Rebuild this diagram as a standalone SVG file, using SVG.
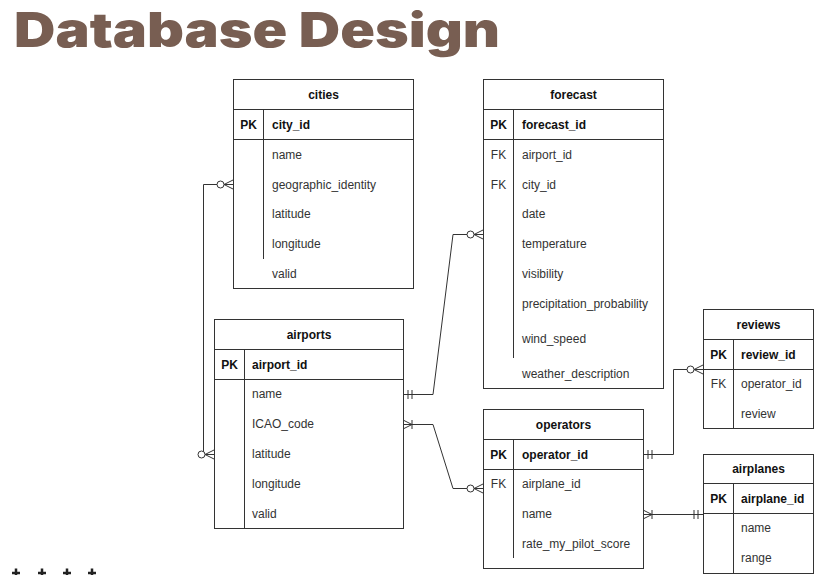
<svg xmlns="http://www.w3.org/2000/svg" width="823" height="575" viewBox="0 0 823 575">
<style>
.box{fill:#fff;stroke:#333;stroke-width:1}
.ln{stroke:#333;stroke-width:1;fill:none}
.t{font-family:"Liberation Sans",Arial,sans-serif;font-size:12px;fill:#333}
.b{font-weight:bold;fill:#111}
.c{text-anchor:middle}
.title{font-family:Inter,"DejaVu Sans",sans-serif;font-weight:900;font-size:48px;fill:#785e52}
.conn{stroke:#333;stroke-width:1;fill:none}
.plus{stroke:#222;stroke-width:2.5}
</style>
<defs>
<marker id="zm" viewBox="-20 -8 22 16" refX="0" refY="0" markerWidth="22" markerHeight="16" markerUnits="userSpaceOnUse" orient="auto-start-reverse" overflow="visible">
<path d="M-9,0 L0,-4.5 M-9,0 L0,0 M-9,0 L0,4.5" stroke="#333" fill="none"/>
<circle cx="-12.5" cy="0" r="3.5" fill="#fff" stroke="#333"/>
</marker>
<marker id="m1" viewBox="-20 -8 22 16" refX="0" refY="0" markerWidth="22" markerHeight="16" markerUnits="userSpaceOnUse" orient="auto-start-reverse" overflow="visible">
<path d="M-5,-4.5 V4.5 M-9,-4.5 V4.5" stroke="#333" fill="none"/>
</marker>
<marker id="om" viewBox="-20 -8 22 16" refX="0" refY="0" markerWidth="22" markerHeight="16" markerUnits="userSpaceOnUse" orient="auto-start-reverse" overflow="visible">
<path d="M-9,0 L0,-4.5 M-9,0 L0,0 M-9,0 L0,4.5 M-9,-4.5 V4.5" stroke="#333" fill="none"/>
</marker>
</defs>
<rect width="823" height="575" fill="#fff"/>
<text class="title" x="14" y="47" textLength="486" lengthAdjust="spacingAndGlyphs">Database Design</text>

<g id="connectors">
<path class="conn" d="M233,184.5 H203.5 V454.5 H214" marker-start="url(#zm)" marker-end="url(#zm)"/>
<path class="conn" d="M403,394.5 H433 L453,234.5 H483" marker-start="url(#m1)" marker-end="url(#zm)"/>
<path class="conn" d="M403,424.5 H433 L453,488.5 H483" marker-start="url(#om)" marker-end="url(#zm)"/>
<path class="conn" d="M643,454.5 H673.5 V369.5 H703" marker-start="url(#m1)" marker-end="url(#zm)"/>
<path class="conn" d="M643,514.5 H703" marker-start="url(#om)" marker-end="url(#m1)"/>
</g>

<g id="cities">
<rect class="box" x="233.5" y="79.5" width="180" height="209"/>
<path class="ln" d="M233.5,109.5 H413.5 M233.5,139.5 H413.5 M263.5,109.5 V259"/>
<text class="t b c" x="323.5" y="98.5">cities</text>
<text class="t b c" x="248.5" y="128.5">PK</text>
<text class="t b" x="272" y="128.5">city_id</text>
<text class="t" x="272" y="159">name</text>
<text class="t" x="272" y="189">geographic_identity</text>
<text class="t" x="272" y="218">latitude</text>
<text class="t" x="272" y="248">longitude</text>
<text class="t" x="272" y="278">valid</text>
</g>

<g id="forecast">
<rect class="box" x="483.5" y="79.5" width="180" height="309"/>
<path class="ln" d="M483.5,109.5 H663.5 M483.5,139.5 H663.5 M513.5,109.5 V358"/>
<text class="t b c" x="573.5" y="98.5">forecast</text>
<text class="t b c" x="498.5" y="128.5">PK</text>
<text class="t b" x="522" y="128.5">forecast_id</text>
<text class="t c" x="498.5" y="159">FK</text>
<text class="t" x="522" y="159">airport_id</text>
<text class="t c" x="498.5" y="189">FK</text>
<text class="t" x="522" y="189">city_id</text>
<text class="t" x="522" y="218">date</text>
<text class="t" x="522" y="248">temperature</text>
<text class="t" x="522" y="278">visibility</text>
<text class="t" x="522" y="308">precipitation_probability</text>
<text class="t" x="522" y="343">wind_speed</text>
<text class="t" x="522" y="378">weather_description</text>
</g>

<g id="airports">
<rect class="box" x="214.5" y="319.5" width="189" height="209"/>
<path class="ln" d="M214.5,349.5 H403.5 M214.5,379.5 H403.5 M244.5,349.5 V528.5"/>
<text class="t b c" x="309" y="338.5">airports</text>
<text class="t b c" x="229.5" y="368.5">PK</text>
<text class="t b" x="252" y="368.5">airport_id</text>
<text class="t" x="252" y="398">name</text>
<text class="t" x="252" y="428">ICAO_code</text>
<text class="t" x="252" y="458">latitude</text>
<text class="t" x="252" y="488">longitude</text>
<text class="t" x="252" y="518">valid</text>
</g>

<g id="operators">
<rect class="box" x="483.5" y="409.5" width="160" height="159"/>
<path class="ln" d="M483.5,439.5 H643.5 M483.5,469.5 H643.5 M513.5,439.5 V558"/>
<text class="t b c" x="563.5" y="428.5">operators</text>
<text class="t b c" x="498.5" y="458.5">PK</text>
<text class="t b" x="522" y="458.5">operator_id</text>
<text class="t c" x="498.5" y="488">FK</text>
<text class="t" x="522" y="488">airplane_id</text>
<text class="t" x="522" y="518">name</text>
<text class="t" x="522" y="548">rate_my_pilot_score</text>
</g>

<g id="reviews">
<rect class="box" x="703.5" y="309.5" width="110" height="119"/>
<path class="ln" d="M703.5,339.5 H813.5 M703.5,369.5 H813.5 M733.5,339.5 V428.5"/>
<text class="t b c" x="758.5" y="328.5">reviews</text>
<text class="t b c" x="718.5" y="358.5">PK</text>
<text class="t b" x="741" y="358.5">review_id</text>
<text class="t c" x="718.5" y="388">FK</text>
<text class="t" x="741" y="388">operator_id</text>
<text class="t" x="741" y="418">review</text>
</g>

<g id="airplanes">
<rect class="box" x="703.5" y="454.5" width="110" height="119"/>
<path class="ln" d="M703.5,483.5 H813.5 M703.5,513.5 H813.5 M733.5,483.5 V573.5"/>
<text class="t b c" x="758.5" y="473">airplanes</text>
<text class="t b c" x="718.5" y="502.5">PK</text>
<text class="t b" x="741" y="502.5">airplane_id</text>
<text class="t" x="741" y="532">name</text>
<text class="t" x="741" y="562">range</text>
</g>

<g id="decor">
<path class="plus" d="M12,573 H20 M16,568.5 V578 M38,573 H46 M42,568.5 V578 M63,573 H71 M67,568.5 V578 M88,573 H96 M92,568.5 V578"/>
</g>
</svg>
